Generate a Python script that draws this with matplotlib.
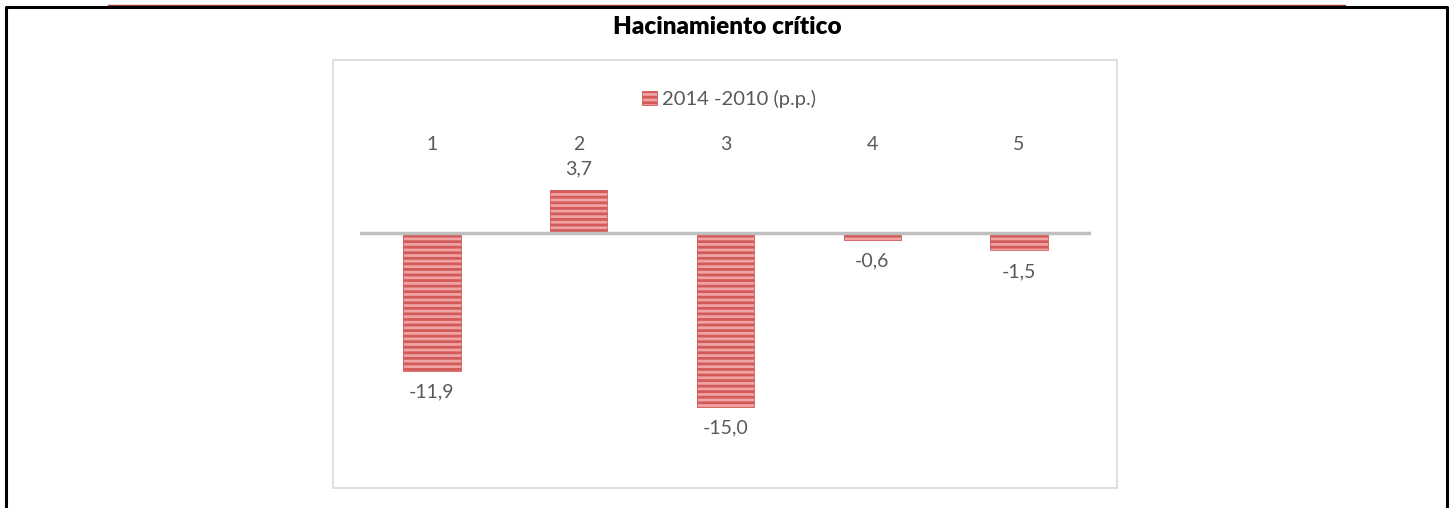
import numpy as np
import matplotlib.pyplot as plt
from matplotlib.patches import Patch, Rectangle
from matplotlib.lines import Line2D

# data
categorias = ['1', '2', '3', '4', '5']
valores = [-11.9, 3.7, -15.0, -0.6, -1.5]
serie = '2014 -2010 (p.p.)'
titulo = 'Hacinamiento crítico'

W, H = 1450, 508
face = '#f0a3a3'
raya = '#d25a59'
texto = '#595959'

plt.rcParams['hatch.linewidth'] = 2.0

fig = plt.figure(figsize=(W / 100, H / 100), dpi=100)

def fx(px):
    return px / W

def fy(py):
    return 1 - py / H

# outer page frame (open at the bottom) and header rule
fig.add_artist(Line2D([fx(108), fx(1345)], [fy(5), fy(5)], color='#943634', lw=1.0))
fig.add_artist(Line2D([fx(6), fx(6), fx(1447), fx(1447)],
                      [fy(H + 2), fy(7), fy(7), fy(H + 2)], color='black', lw=2.2))

# chart box
fig.add_artist(Rectangle((fx(333), fy(488)), fx(1117) - fx(333), fy(60) - fy(488),
                         fill=False, edgecolor='#d9d9d9', lw=1.2))

fig.text(fx(727), fy(27), titulo, ha='center', va='center', fontsize=17.5,
         fontweight='heavy', family='Lato')

ax = fig.add_axes([fx(360), fy(470), fx(1091) - fx(360), fy(130) - fy(470)])
x = np.arange(len(categorias))
ax.bar(x, valores, width=0.39, color=face, edgecolor='none', zorder=2)
ax.bar(x, valores, width=0.39, facecolor='none', edgecolor=raya, hatch='---',
       lw=0.6, zorder=3)
ax.axhline(0, color='#bfbfbf', lw=2.5, zorder=4)

ax.set_xlim(-0.49, 4.49)
ax.set_ylim(-(470 - 233) / 11.6, (233 - 130) / 11.6)

for xi, v in zip(x, valores):
    lab = f'{v:.1f}'.replace('.', ',')
    if v >= 0:
        ax.annotate(lab, (xi, v), xytext=(0, 9), textcoords='offset points',
                    ha='center', va='bottom', fontsize=14, color=texto, family='Lato')
    else:
        ax.annotate(lab, (xi, v), xytext=(0, -9), textcoords='offset points',
                    ha='center', va='top', fontsize=14, color=texto, family='Lato')

# category labels sit above the plot
for xi, c in zip(x, categorias):
    ax.text(xi, (233 - 145) / 11.6, c, ha='center', va='center', fontsize=14,
            color=texto, family='Lato')

ax.axis('off')

handle = Patch(facecolor=face, edgecolor=raya, hatch='---', lw=0.6)
fig.legend([handle], [serie], loc='center', bbox_to_anchor=(fx(729), fy(99)),
           frameon=False, handlelength=0.75, handleheight=0.75, handletextpad=0.25,
           prop={'family': 'Lato', 'size': 14.5}, labelcolor=texto)

fig.savefig('out.png', dpi=100)
